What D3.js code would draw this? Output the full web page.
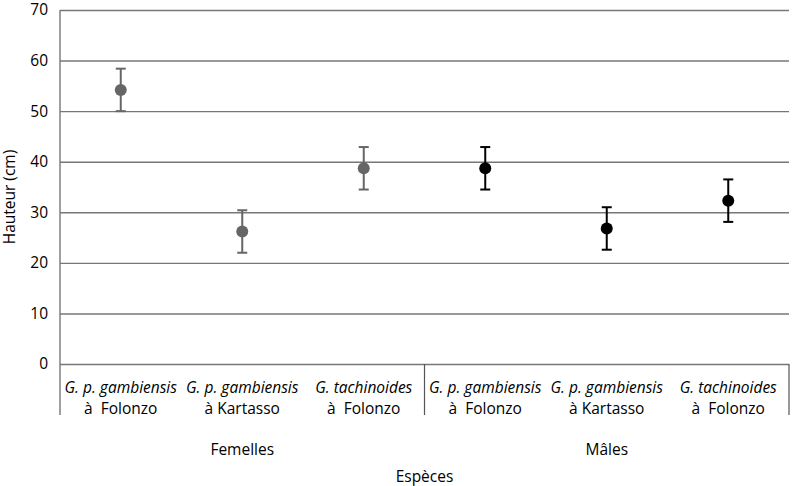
<!DOCTYPE html>
<head>
  <style>
    body { margin: 0; background: #fff; }
    text { font-family: "Open Sans", "Noto Sans", sans-serif; fill: #000; white-space: pre; }
  </style>
  <title>Hauteur par espèce</title>
</head>
<body>
  <script src="https://cdn.jsdelivr.net/npm/d3@7"></script>
  <script>
    // data
    var species = ["G. p. gambiensis", "G. p. gambiensis", "G. tachinoides", "G. p. gambiensis", "G. p. gambiensis", "G. tachinoides"];
    var places = ["à  Folonzo", "à Kartasso", "à  Folonzo", "à  Folonzo", "à Kartasso", "à  Folonzo"];
    var groups = ["Femelles", "Mâles"];
    var sexOf = [0, 0, 0, 1, 1, 1];
    var means = [54.2, 26.2, 38.7, 38.7, 26.8, 32.3];
    var errs = [4.2, 4.2, 4.2, 4.2, 4.2, 4.2];
    var yTicks = [0, 10, 20, 30, 40, 50, 60, 70];

    var width = 794, height = 486;
    var mLeft = 60, mRight = 789, mTop = 10, mBottom = 364;
    var fs = 15.5;

    var svg = d3.select("body").append("svg").attr("width", width).attr("height", height);

    var x = d3.scaleBand().domain(d3.range(species.length)).range([mLeft, mRight]);
    var y = d3.scaleLinear().domain([0, 70]).range([mBottom, mTop]);

    // gridlines + y labels
    var yAxis = d3.axisLeft(y).tickValues(yTicks).tickSize(-(mRight - mLeft)).tickPadding(12);
    var gy = svg.append("g").attr("transform", "translate(" + mLeft + ",0)").call(yAxis);
    gy.select(".domain").remove();
    gy.selectAll("line").attr("stroke", "#777").attr("stroke-width", 1.4);
    gy.selectAll("text").attr("font-size", fs).attr("font-family", "Open Sans").attr("fill", "#000");

    // left axis line down through the category area
    svg.append("line").attr("x1", mLeft).attr("x2", mLeft).attr("y1", mTop).attr("y2", mBottom + 51)
      .attr("stroke", "#777").attr("stroke-width", 1.4);
    // group separators
    [x(3), mRight].forEach(function(px) {
      svg.append("line").attr("x1", px).attr("x2", px).attr("y1", mBottom).attr("y2", mBottom + 51)
        .attr("stroke", "#555").attr("stroke-width", 1.2);
    });

    // category labels
    var cat = svg.append("g");
    species.forEach(function(s, i) {
      var cx = x(i) + x.bandwidth() / 2;
      cat.append("text").attr("x", cx).attr("y", 393).attr("text-anchor", "middle")
        .attr("font-size", fs).attr("font-style", "italic").text(s);
      cat.append("text").attr("x", cx).attr("y", 414).attr("text-anchor", "middle")
        .attr("font-size", fs).text(places[i]);
    });
    groups.forEach(function(g, k) {
      svg.append("text").attr("x", (x(k * 3) + x(k * 3 + 2) + x.bandwidth()) / 2).attr("y", 455)
        .attr("text-anchor", "middle").attr("font-size", fs).text(g);
    });

    // error bars and points
    var pts = svg.append("g").selectAll("g").data(means).enter().append("g");
    pts.each(function(m, i) {
      var g = d3.select(this);
      var cx = x(i) + x.bandwidth() / 2;
      var col = sexOf[i] === 0 ? "#666" : "#000";
      g.append("line").attr("x1", cx).attr("x2", cx).attr("y1", y(m + errs[i])).attr("y2", y(m - errs[i]))
        .attr("stroke", col).attr("stroke-width", 2);
      [m + errs[i], m - errs[i]].forEach(function(v) {
        g.append("line").attr("x1", cx - 5).attr("x2", cx + 5).attr("y1", y(v)).attr("y2", y(v))
          .attr("stroke", col).attr("stroke-width", 2);
      });
      g.append("circle").attr("cx", cx).attr("cy", y(m)).attr("r", 6).attr("fill", col);
    });

    // axis titles
    svg.append("text").attr("x", (mLeft + mRight) / 2).attr("y", 482).attr("text-anchor", "middle")
      .attr("font-size", fs).text("Espèces");
    svg.append("text").attr("transform", "translate(15,197) rotate(-90)")
      .attr("text-anchor", "middle").attr("font-size", fs).text("Hauteur (cm)");
  </script>
</body>
